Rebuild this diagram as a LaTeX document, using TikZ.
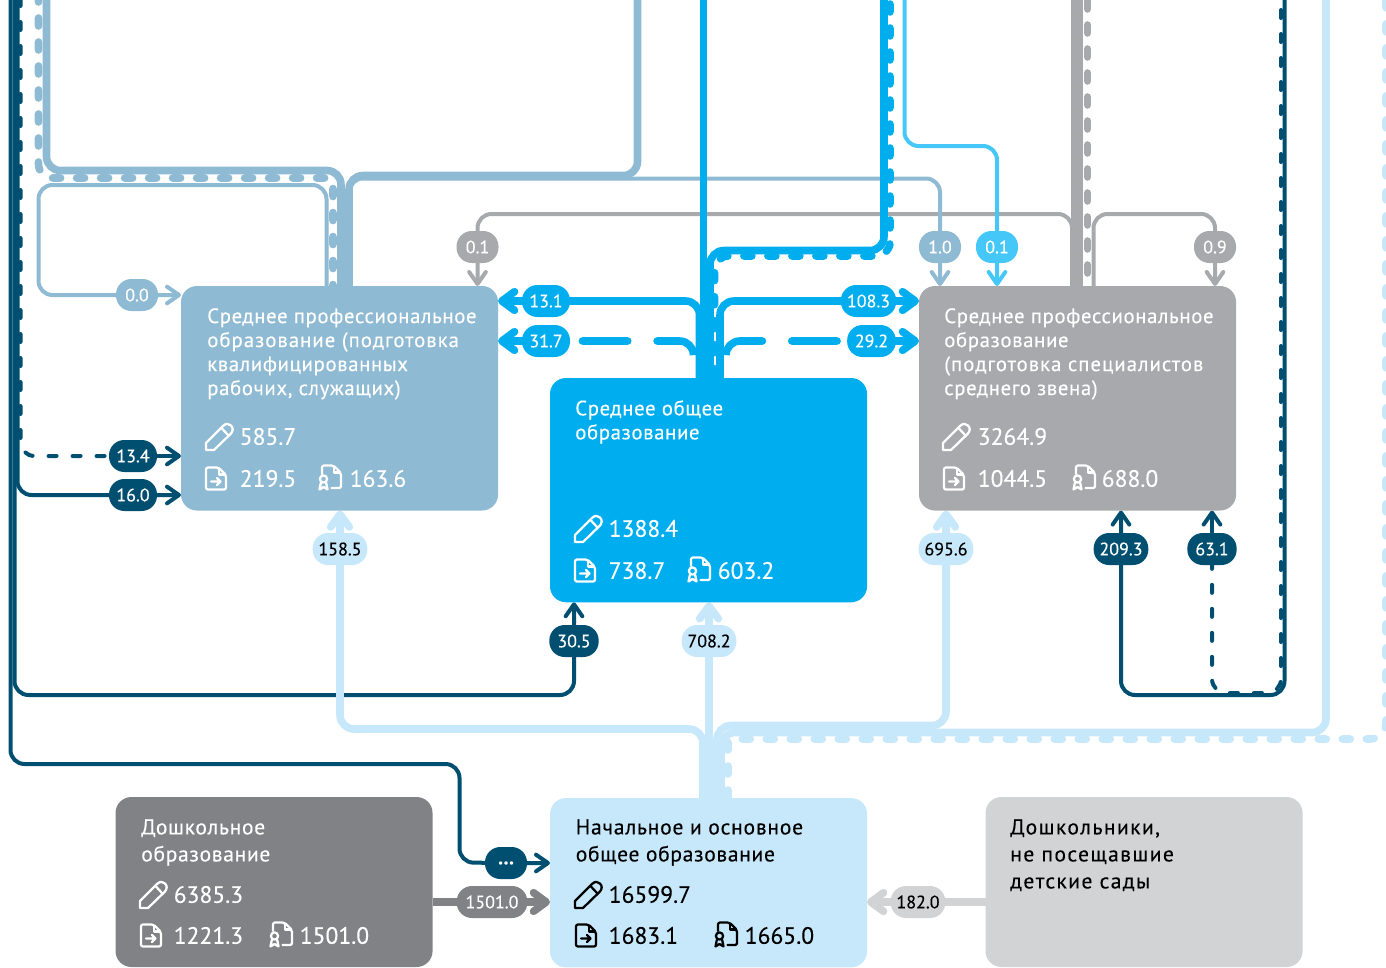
\documentclass[tikz,border=0pt]{standalone}
\usepackage{fontspec}
\setmainfont[LetterSpace=3,FakeBold=0.25]{PT Sans}
\usetikzlibrary{arrows.meta}
\pgfdeclarelayer{bg}
\pgfsetlayers{bg,main}
\definecolor{cspo}{HTML}{8FBAD3}
\definecolor{ccyan}{HTML}{00AEEF}
\definecolor{cgrey}{HTML}{A7A9AC}
\definecolor{cdark}{HTML}{808285}
\definecolor{clight}{HTML}{C7E8FA}
\definecolor{cpale}{HTML}{D1D3D4}
\definecolor{cnavy}{HTML}{004F71}
\definecolor{csky}{HTML}{45C8F7}
\def\rr{10.5pt}
\def\wider{\addfontfeature{LetterSpace=4.8}}
\tikzset{
  card/.style={rectangle,rounded corners=12pt,minimum width=237.8pt,inner sep=0pt,outer sep=0pt},
  title/.style={anchor=north west,inner sep=0pt,align=left,font=\fontsize{15.6}{18}\selectfont},
  titleb/.style={anchor=north west,inner sep=0pt,align=left,font=\fontsize{16.2}{20.25}\selectfont},
  stat/.style={anchor=west,inner sep=0pt,font=\addfontfeature{LetterSpace=0}\fontsize{17.7}{20}\selectfont},
  pill/.style={rectangle,rounded corners=11.5pt,minimum height=24pt,inner sep=0pt,outer sep=0pt,font=\addfontfeature{LetterSpace=0}\fontsize{13.5}{15}\selectfont},
  thinl/.style={line width=3pt},
  wide/.style={line width=5.7pt},
  ddash/.style={line cap=round,dash pattern=on 6pt off 12pt},
  arr/.style={-{Straight Barb[length=9pt,width=12.5pt,round]}},
  arw/.style={-{Straight Barb[length=9.5pt,width=14pt,round]}},
  icn/.style={line width=1.7pt,line cap=round,line join=round},
  pencil/.pic={
    \draw[pic actions,icn] (1,27) -- (1,20) -- (18,3) .. controls (21,0) and (24,0.5) .. (26,2.5) .. controls (28.5,5) and (28,8) .. (26,10.5) -- (9,27) -- cycle;
    \draw[pic actions,icn] (16.5,5) -- (23.5,12.5);
  },
  docicon/.pic={
    \draw[pic actions,icn,rounded corners=1.5pt] (13.5,0.5) -- (1,0.5) -- (1,22.5) -- (21,22.5) -- (21,8) -- cycle;
    \draw[pic actions,icn] (14,1.5) -- (14,7.5) -- (20,7.5);
    \draw[pic actions,icn] (6,14.5) -- (15.5,14.5) (12,11) -- (15.5,14.5) -- (12,18);
  },
  dipicon/.pic={
    \draw[pic actions,icn,rounded corners=1.5pt] (4,9) -- (4,0.5) -- (15.5,0.5) -- (23,8) -- (23,23) -- (13.5,23);
    \draw[pic actions,icn] (16,1.5) -- (16,7.5) -- (22,7.5);
    \draw[pic actions,icn] (5.5,14) circle[radius=3.6];
    \draw[pic actions,icn] (2.8,18) -- (1.5,24.5) -- (5.5,22) -- (9.5,24.5) -- (8.2,18);
  }
}
\begin{document}
\begin{tikzpicture}[x=0.75pt,y=-0.75pt]
\useasboundingbox (0,0) rectangle (1386,968);
\clip (0,0) rectangle (1386,968);

% ---- cards
\node[card,fill=cspo,minimum height=168.4pt,anchor=north west] (spo1) at (181,286) {};
\node[card,fill=ccyan,minimum height=168.2pt,anchor=north west] (sso) at (550,378) {};
\node[card,fill=cgrey,minimum height=168.4pt,anchor=north west] (spo2) at (919,286) {};
\node[card,fill=cdark,minimum height=127.5pt,anchor=north west] (dosh) at (115.5,797) {};
\node[card,fill=clight,minimum height=127pt,anchor=north west] (nach) at (550,798) {};
\node[card,fill=cpale,minimum height=127.5pt,anchor=north west] (neposh) at (985.5,797) {};

% ---- titles
\node[title,text=white] (t1) at (207,308) {Среднее профессиональное\\\wider образование (подготовка\\квалифицированных\\рабочих, служащих)};
\node[title,text=white] (t2) at (575,400) {Среднее общее\\образование};
\node[title,text=white] (t3) at (944,308) {Среднее профессиональное\\образование\\\wider(подготовка специалистов\\среднего звена)};
\node[titleb,text=white] (t4) at (141,819) {Дошкольное\\образование};
\node[titleb,text=black] (t5) at (575.5,819) {\addfontfeature{LetterSpace=3.5}Начальное и основное\\общее образование};
\node[titleb,text=black,font=\addfontfeature{LetterSpace=6.5}\fontsize{16.2}{20.25}\selectfont] (t6) at (1010,819) {Дошкольники,\\не посещавшие\\детские сады};

% ---- stats
\pic[draw=white] at (205,423) {pencil};
\pic[draw=white] at (205,467) {docicon};
\pic[draw=white] at (318,465) {dipicon};
\node[stat,text=white] (s1a) at (239.5,436.5) {585.7};
\node[stat,text=white] (s1b) at (239.5,478.5) {219.5};
\node[stat,text=white] (s1c) at (349.5,478.5) {163.6};

\pic[draw=white] at (574,515) {pencil};
\pic[draw=white] at (574,559) {docicon};
\pic[draw=white] at (687,557) {dipicon};
\node[stat,text=white] (s2a) at (608.5,528.5) {1388.4};
\node[stat,text=white] (s2b) at (608.5,570.5) {738.7};
\node[stat,text=white] (s2c) at (717.5,570.5) {603.2};

\pic[draw=white] at (942,423) {pencil};
\pic[draw=white] at (943,467) {docicon};
\pic[draw=white] at (1072,465) {dipicon};
\node[stat,text=white] (s3a) at (977.5,436.5) {3264.9};
\node[stat,text=white] (s3b) at (977.5,478.5) {1044.5};
\node[stat,text=white] (s3c) at (1101.5,478.5) {688.0};

\pic[draw=white] at (139,881) {pencil};
\pic[draw=white] at (140,924) {docicon};
\pic[draw=white] at (269,922) {dipicon};
\node[stat,text=white] (s4a) at (173.5,894.5) {6385.3};
\node[stat,text=white] (s4b) at (173.5,935.5) {1221.3};
\node[stat,text=white] (s4c) at (299.5,935.5) {1501.0};

\pic[draw=black] at (574,881) {pencil};
\pic[draw=black] at (575,924) {docicon};
\pic[draw=black] at (714,922) {dipicon};
\node[stat,text=black] (s5a) at (608.5,894.5) {16599.7};
\node[stat,text=black] (s5b) at (608.5,935.5) {1683.1};
\node[stat,text=black] (s5c) at (744.5,935.5) {1665.0};

% ---- pills
\node[pill,fill=cspo,text=white,minimum width=31.5pt] (p00) at (137,295) {0.0};
\node[pill,fill=cnavy,text=white,minimum width=36pt] (p134) at (133,456) {13.4};
\node[pill,fill=cnavy,text=white,minimum width=36pt] (p160) at (133,495) {16.0};
\node[pill,fill=cgrey,text=white,minimum width=31.5pt] (p01a) at (477.5,247) {0.1};
\node[pill,fill=cspo,text=white,minimum width=31.5pt] (p10) at (940,247) {1.0};
\node[pill,fill=csky,text=white,minimum width=31.5pt] (p01b) at (997,247) {0.1};
\node[pill,fill=cgrey,text=white,minimum width=31.5pt] (p09) at (1215,247) {0.9};
\node[pill,fill=ccyan,text=white,minimum width=36pt] (p131) at (546,301) {13.1};
\node[pill,fill=ccyan,text=white,minimum width=36pt] (p317) at (546,341) {31.7};
\node[pill,fill=ccyan,text=white,minimum width=41.5pt] (p1083) at (868.5,301) {108.3};
\node[pill,fill=ccyan,text=white,minimum width=36.5pt] (p292) at (871.5,341) {29.2};
\node[pill,fill=clight,text=black,minimum width=41pt] (p1585) at (340,549) {158.5};
\node[pill,fill=clight,text=black,minimum width=41pt] (p6956) at (946,549) {695.6};
\node[pill,fill=clight,text=black,minimum width=41pt] (p7082) at (709,641) {708.2};
\node[pill,fill=cnavy,text=white,minimum width=37pt] (p305) at (574,641) {30.5};
\node[pill,fill=cnavy,text=white,minimum width=41pt] (p2093) at (1121,549) {209.3};
\node[pill,fill=cnavy,text=white,minimum width=37pt] (p631) at (1212,549) {63.1};
\node[pill,fill=cnavy,text=white,minimum width=31.5pt,font=\bfseries\addfontfeature{LetterSpace=0}\fontsize{15}{15}\selectfont] (pdots) at (506,863) {…};
\node[pill,fill=cdark,text=white,minimum width=53pt] (p1501) at (492,902) {1501.0};
\node[pill,fill=cpale,text=black,minimum width=41pt] (p182) at (918,902) {182.0};

\begin{pgfonlayer}{bg}
% ---- navy
\draw[thinl,cnavy,arr,rounded corners=\rr] (10.5,0) -- (10.5,764) -- (459.5,764) -- (459.5,862.5) -- (pdots.center) -- (pdots.center -| nach.west);
\draw[thinl,cnavy,arr,rounded corners=\rr] (14.5,0) -- (14.5,695) -- (574,695) -- (p305.center) -- (574,0 |- sso.south);
\draw[thinl,cnavy,arr,rounded corners=\rr] (17.5,0) -- (17.5,495) -- (p160.center) -- (p160.center -| spo1.west);
\draw[thinl,cnavy,ddash,dash phase=1.5pt,rounded corners=\rr] (20.5,0) -- (20.5,456) -- (p134.center);
\draw[thinl,cnavy,arr] (p134.center) -- (p134.center -| spo1.west);
\draw[thinl,cnavy,arr,rounded corners=\rr] (1284.5,0) -- (1284.5,695) -- (1121,695) -- (p2093.center) -- (1121,0 |- spo2.south);
\draw[thinl,cnavy,ddash,dash phase=10.5pt,rounded corners=\rr] (1281,0) -- (1281,693) -- (1212,693) -- (p631.center);
\draw[thinl,cnavy,arr] (p631.center) -- (p631.center |- spo2.south);

% ---- grey
\draw[thinl,cgrey,arr,rounded corners=\rr] (1072,0 |- spo2.north) -- (1072,214) -- (477.5,214) -- (p01a.center) -- (p01a.center |- spo1.north);
\draw[thinl,cgrey,arr,rounded corners=\rr] (1093.5,0 |- spo2.north) -- (1093.5,214) -- (1215,214) -- (p09.center) -- (p09.center |- spo2.north);
\draw[line width=9.5pt,cgrey] (1077,0) -- (1077,0 |- spo2.north);
\draw[wide,cgrey,ddash,dash phase=17.25pt] (1087.5,0) -- (1087.5,0 |- spo2.north);

% ---- grey-blue
\draw[thinl,cspo,arr,rounded corners=\rr] (349,0 |- spo1.north) -- (349,178.5) -- (940,178.5) -- (p10.center) -- (p10.center |- spo2.north);
\draw[wide,cspo,rounded corners=\rr] (46.5,0) -- (46.5,170.5) -- (341,170.5) -- (341,0 |- spo1.north);
\draw[wide,cspo,rounded corners=\rr] (637.5,0) -- (637.5,175.5) -- (349,175.5) -- (349,0 |- spo1.north);
\draw[wide,cspo,ddash,dash phase=4.5pt] (38.5,0) [rounded corners=\rr] -- (38.5,178) [rounded corners=5pt] -- (333,178) -- (333,0 |- spo1.north);
\draw[thinl,cspo,arr,rounded corners=\rr] (326.5,0 |- spo1.north) -- (326.5,185) -- (38.5,185) -- (38.5,295) -- (p00.center) -- (p00.center -| spo1.west);

% ---- sky
\draw[thinl,csky,arr,rounded corners=\rr] (904.5,0) -- (904.5,146) -- (997,146) -- (p01b.center) -- (p01b.center |- spo2.north);

% ---- cyan
\draw[wide,ccyan,arw,rounded corners=\rr] (699.5,0 |- sso.north) -- (699.5,301) -- (p131.center) -- (p131.center -| spo1.east);
\draw[wide,ccyan,arw,rounded corners=\rr] (720,0 |- sso.north) -- (720,301) -- (p1083.center) -- (p1083.center -| spo2.west);
\draw[wide,ccyan,line cap=round,dash pattern=on 34pt off 22pt,rounded corners=\rr] (693.5,354) -- (693.5,341) -- (p317.center);
\draw[wide,ccyan,arw] (p317.center) -- (p317.center -| spo1.east);
\draw[wide,ccyan,line cap=round,dash pattern=on 34pt off 22pt,rounded corners=\rr] (726,354) -- (726,341) -- (p292.center);
\draw[wide,ccyan,arw] (p292.center) -- (p292.center -| spo2.west);
\draw[wide,ccyan] (703.5,0) -- (703.5,0 |- sso.north);
\draw[wide,ccyan,rounded corners=\rr] (884,0) -- (884,250.5) -- (710,250.5) -- (710,0 |- sso.north);
\draw[wide,ccyan,ddash,dash phase=15pt,rounded corners=\rr] (890,0) -- (890,256) -- (714.5,256) -- (714.5,0 |- sso.north);

% ---- light blue
\draw[wide,clight,arw,rounded corners=\rr] (703,0 |- nach.north) -- (703,729) -- (340,729) -- (p1585.center) -- (p1585.center |- spo1.south);
\draw[wide,clight,arw] (709,0 |- nach.north) -- (p7082.center) -- (p7082.center |- sso.south);
\draw[wide,clight,arw,rounded corners=\rr] (717,0 |- nach.north) -- (717,725.5) -- (946,725.5) -- (p6956.center) -- (p6956.center |- spo2.south);
\draw[wide,clight,rounded corners=\rr] (721,0 |- nach.north) -- (721,732.5) -- (1326,732.5) -- (1326,0);
\draw[wide,clight,ddash] (728,0 |- nach.north) [rounded corners=2pt] -- (728,739) [rounded corners=12pt] -- (1386,739) -- (1386,0);

% ---- bottom
\draw[wide,cdark,arw] (dosh.east |- p1501.center) -- (p1501.center) -- (p1501.center -| nach.west);
\draw[wide,cpale,arw] (neposh.west |- p182.center) -- (p182.center) -- (p182.center -| nach.east);
\end{pgfonlayer}
\end{tikzpicture}
\end{document}
